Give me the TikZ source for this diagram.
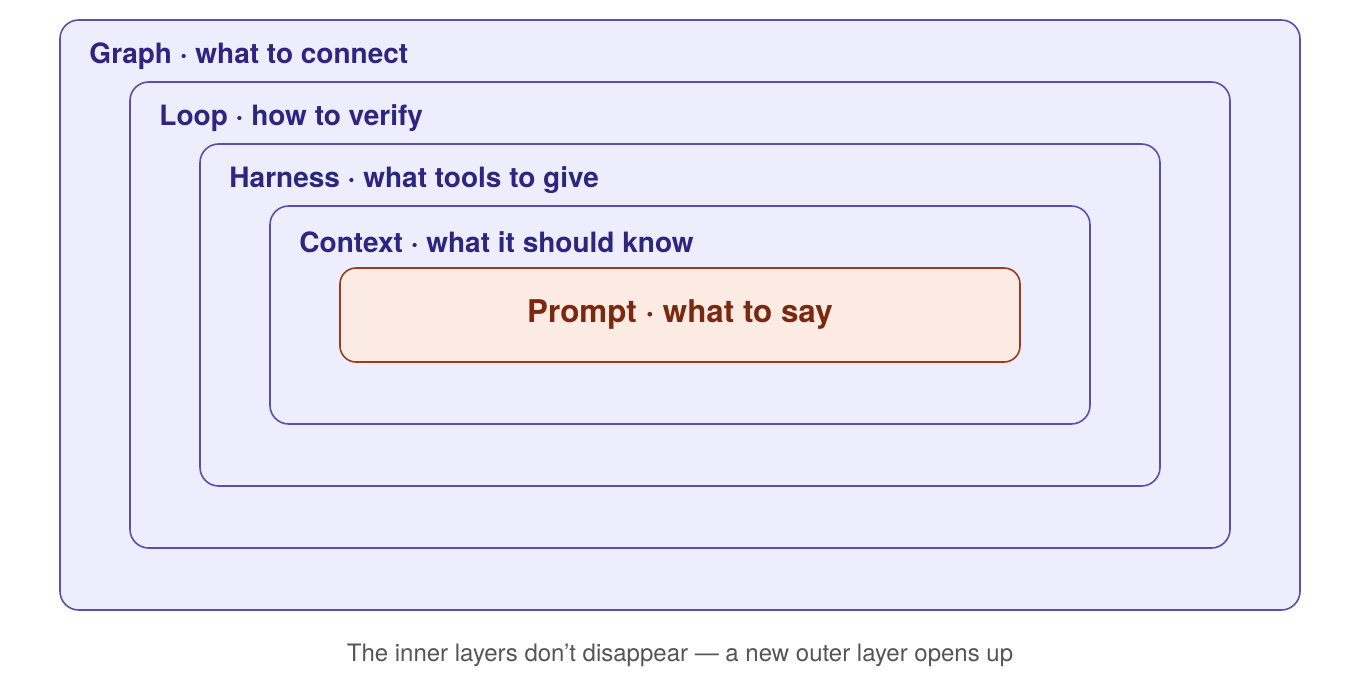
\documentclass[tikz,border=0pt]{standalone}
\usepackage{fontspec}
\setmainfont{TeX Gyre Heros}
\usetikzlibrary{positioning}

\definecolor{layerfill}{HTML}{EEEDFD}
\definecolor{layerline}{HTML}{5A4EAE}
\definecolor{layertext}{HTML}{2D2580}
\definecolor{corefill}{HTML}{FBEBE2}
\definecolor{coreline}{HTML}{9B3B1E}
\definecolor{coretext}{HTML}{7A2810}
\definecolor{capgray}{HTML}{555555}

\tikzset{
  layer/.style={draw=layerline,fill=layerfill,line width=1.2pt,rounded corners=14pt,inner sep=0pt},
  core/.style={draw=coreline,fill=corefill,line width=1.2pt,rounded corners=12pt,inner sep=0pt,
    font=\fontsize{23.5}{27}\selectfont\bfseries,text=coretext},
  layerlabel/.style={anchor=west,inner sep=0pt,font=\fontsize{21}{25}\selectfont\bfseries,text=layertext}
}

\begin{document}
\begin{tikzpicture}[x=0.75pt,y=-0.75pt]
  \useasboundingbox[fill=white] (0,0) rectangle (1360,690);

  \node[layer,minimum width=1240*0.75pt,minimum height=590*0.75pt,name=graph] at (680,315) {};
  \node[layer,minimum width=1100*0.75pt,minimum height=466*0.75pt,name=loop] at (680,315) {};
  \node[layer,minimum width=960*0.75pt,minimum height=342*0.75pt,name=harness] at (680,315) {};
  \node[layer,minimum width=820*0.75pt,minimum height=218*0.75pt,name=context] at (680,315) {};
  \node[core,minimum width=680*0.75pt,minimum height=94*0.75pt,name=prompt] at (680,315) {Prompt · what to say};

  \node[layerlabel,name=graphlabel] at ([xshift=30*0.75pt,yshift=-37*0.75pt]graph.north west) {Graph · what to connect};
  \node[layerlabel,name=looplabel] at ([xshift=30*0.75pt,yshift=-37*0.75pt]loop.north west) {Loop · how to verify};
  \node[layerlabel,name=harnesslabel] at ([xshift=30*0.75pt,yshift=-37*0.75pt]harness.north west) {Harness · what tools to give};
  \node[layerlabel,name=contextlabel] at ([xshift=30*0.75pt,yshift=-37*0.75pt]context.north west) {Context · what it should know};

  \node[name=caption,below=45*0.75pt of graph.south,anchor=center,text=capgray,font=\fontsize{18}{22}\selectfont] {The inner layers don’t disappear — a new outer layer opens up};
\end{tikzpicture}
\end{document}
